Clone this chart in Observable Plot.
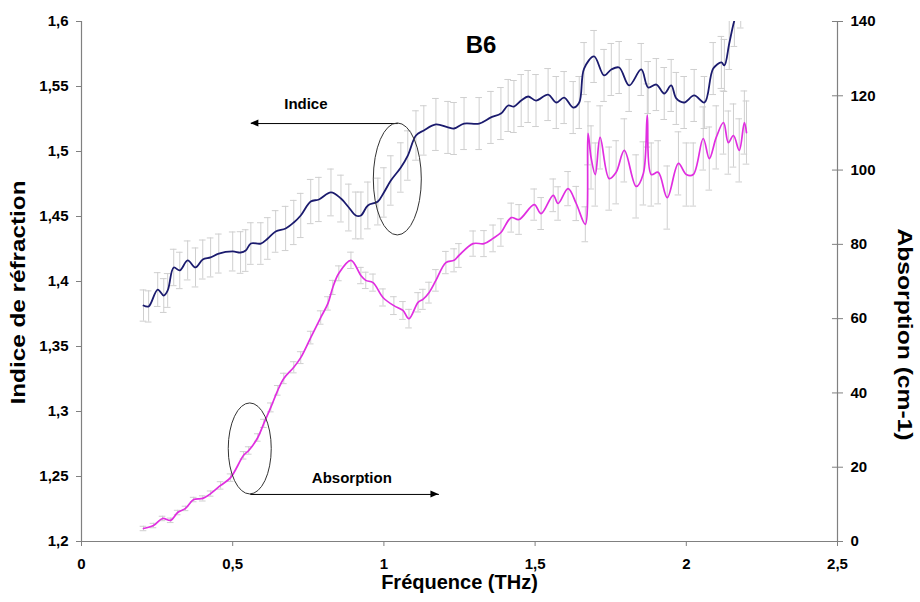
<!DOCTYPE html>
<html><head><meta charset="utf-8">
<script src="https://cdn.jsdelivr.net/npm/d3@7"></script>
<script src="https://cdn.jsdelivr.net/npm/@observablehq/plot@0.6"></script>
<style>
body{margin:0;background:#fff;}
#chart svg{display:block;}
</style></head><body><div id="chart"></div>
<script>
// ---- Indice de réfraction (left axis) ----
const freqIndice = [0.205,0.222,0.252,0.272,0.285,0.305,0.325,0.351,0.377,0.401,0.427,0.454,0.500,0.526,0.543,0.560,0.593,0.616,0.642,0.675,0.702,0.725,0.758,0.785,0.825,0.858,0.884,0.907,0.924,0.947,0.980,1.000,1.023,1.056,1.079,1.106,1.132,1.172,1.212,1.232,1.265,1.315,1.354,1.387,1.411,1.430,1.454,1.477,1.503,1.543,1.570,1.596,1.626,1.646,1.662,1.695,1.728,1.752,1.778,1.811,1.851,1.874,1.901,1.927,1.950,1.967,1.993,2.026,2.060,2.089,2.116,2.126,2.142,2.159,2.180,2.200];
const indice = [1.3815,1.3808,1.3938,1.3892,1.3931,1.4108,1.4085,1.4162,1.4108,1.4169,1.4185,1.4215,1.4231,1.4223,1.4238,1.4292,1.4292,1.4331,1.4385,1.4408,1.4454,1.4508,1.4615,1.4631,1.4685,1.4638,1.4569,1.4508,1.4508,1.4585,1.4615,1.4685,1.4777,1.4877,1.4969,1.5123,1.5162,1.5208,1.5185,1.5177,1.5215,1.5215,1.5262,1.5292,1.5354,1.5346,1.5392,1.5423,1.5392,1.5438,1.5377,1.5415,1.5338,1.5377,1.5638,1.5731,1.5585,1.5631,1.5646,1.5508,1.5631,1.5492,1.5515,1.5446,1.5508,1.5408,1.5377,1.5431,1.5377,1.5638,1.5685,1.5662,1.5831,1.6008,1.6150,1.6250];
const errIndice = [0.012,0.012,0.013,0.013,0.013,0.014,0.014,0.015,0.015,0.015,0.015,0.015,0.015,0.016,0.016,0.016,0.016,0.016,0.016,0.017,0.017,0.017,0.017,0.017,0.018,0.018,0.018,0.018,0.018,0.018,0.018,0.019,0.019,0.019,0.019,0.019,0.019,0.020,0.020,0.020,0.020,0.020,0.020,0.020,0.020,0.020,0.020,0.020,0.020,0.020,0.020,0.020,0.020,0.020,0.020,0.020,0.020,0.020,0.020,0.020,0.020,0.020,0.020,0.020,0.020,0.020,0.020,0.020,0.020,0.020,0.020,0.020,0.020,0.020,0.020,0.020];

// ---- Absorption (cm-1, right axis) ----
const freqAbs = [0.205,0.238,0.268,0.295,0.318,0.344,0.371,0.401,0.427,0.460,0.493,0.536,0.553,0.583,0.603,0.626,0.649,0.669,0.702,0.725,0.758,0.791,0.815,0.831,0.851,0.891,0.924,0.940,0.964,0.997,1.033,1.063,1.083,1.113,1.129,1.149,1.172,1.205,1.232,1.248,1.295,1.331,1.361,1.387,1.421,1.447,1.497,1.520,1.560,1.576,1.609,1.636,1.666,1.675,1.685,1.699,1.715,1.745,1.768,1.795,1.834,1.858,1.871,1.884,1.907,1.937,1.974,2.000,2.023,2.056,2.076,2.099,2.123,2.139,2.156,2.175,2.192,2.199];
const absorption = [3.5,4.3,6.2,5.7,7.8,8.9,11.3,11.6,12.9,15.1,17.2,23.2,24.5,28.0,31.8,36.1,40.7,43.9,46.9,49.5,54.9,60.3,64.1,68.4,72.2,75.7,71.6,70.3,69.7,65.7,63.5,62.2,60.0,64.4,65.2,67.0,70.3,75.1,75.7,77.0,80.2,80.2,81.6,83.2,87.2,86.7,90.7,88.3,93.2,91.0,95.0,91.0,85.4,109.9,103.4,98.8,108.8,97.7,99.4,105.3,95.6,99.1,114.7,98.8,99.4,92.6,101.8,98.8,98.8,108.5,103.1,108.8,112.8,107.4,109.3,105.3,112.8,110.1];
const errAbs = [0.6,0.6,0.6,0.6,0.6,0.6,0.6,0.7,0.7,1.0,1.0,1.0,1.0,1.0,1.1,1.2,1.3,1.4,1.5,1.6,1.7,1.8,1.8,1.9,2.0,2.2,2.2,2.2,2.3,2.3,2.4,2.4,2.5,2.6,2.7,2.8,2.9,3.0,3.1,3.2,3.4,3.5,3.6,3.7,3.9,4.0,4.2,4.3,4.4,4.5,4.6,4.6,4.7,8.5,8.5,8.5,8.5,8.5,8.5,8.5,8.5,8.5,8.5,8.5,8.5,8.5,8.5,8.5,8.5,8.5,8.5,8.5,8.5,8.5,8.5,8.5,8.5,8.5];

// ---- axes ----
const xTicks = [0, 0.5, 1, 1.5, 2, 2.5];
const leftTicks = [1.2, 1.25, 1.3, 1.35, 1.4, 1.45, 1.5, 1.55, 1.6];
const rightTicks = [0, 20, 40, 60, 80, 100, 120, 140];

// ---- annotations ----
const annoText = ["B6", "Indice", "Absorption"];
const annoTextX = [1.321, 0.742, 0.894];
const annoTextY = [1.5815, 1.5362, 1.2490];
const arrowX1 = [1.046, 0.558];
const arrowX2 = [0.560, 1.182];
const arrowY = [1.5215, 1.2362];
const ellipseX = [1.046, 0.558];
const ellipseY = [1.4785, 1.2712];

const N0 = 1.2, N1 = 1.6, A1 = 140;
const toN = a => N0 + a * (N1 - N0) / A1;
const fmt = v => String(v).replace(".", ",");
const cap = 0.011;
const FONT = "Liberation Sans, Arial, Helvetica, sans-serif";

const blue = freqIndice.map((x, i) => ({x, y: indice[i], e: errIndice[i]}));
const pink = freqAbs.map((x, i) => ({x, y: toN(absorption[i]), e: toN(errAbs[i]) - N0}));
const errColor = "#cfcfcf";

function errMarks(data) {
  return [
    Plot.ruleX(data, {x: "x", y1: d => d.y - d.e, y2: d => d.y + d.e, stroke: errColor, strokeWidth: 1, clip: true}),
    Plot.ruleY(data, {x1: d => d.x - cap, x2: d => d.x + cap, y: d => d.y + d.e, stroke: errColor, strokeWidth: 1, clip: true}),
    Plot.ruleY(data, {x1: d => d.x - cap, x2: d => d.x + cap, y: d => d.y - d.e, stroke: errColor, strokeWidth: 1, clip: true})
  ];
}

const annos = annoText.map((t, i) => ({t, x: annoTextX[i], y: annoTextY[i]}));
const arrows = arrowX1.map((x1, i) => ({x1, x2: arrowX2[i], y: arrowY[i]}));

const plot = Plot.plot({
  width: 920, height: 602,
  marginLeft: 81, marginRight: 83, marginTop: 21, marginBottom: 61,
  style: {fontFamily: FONT, background: "#fff", color: "#000", overflow: "visible"},
  x: {domain: [0, 2.5]},
  y: {domain: [N0, N1]},
  marks: [
    ...errMarks(blue),
    ...errMarks(pink),
    Plot.line(blue, {x: "x", y: "y", stroke: "#1b1b6e", strokeWidth: 1.8, curve: "catmull-rom", clip: true}),
    Plot.line(pink, {x: "x", y: "y", stroke: "#e02ee0", strokeWidth: 1.7, curve: "catmull-rom", clip: true}),
    Plot.ruleY([N0], {stroke: "#808080", strokeWidth: 1.2}),
    Plot.ruleX([0, 2.5], {stroke: "#808080", strokeWidth: 1.2}),
    Plot.axisX(xTicks, {tickFormat: fmt, tickSize: 5, tickPadding: 12, stroke: "#808080", fill: "#000", fontSize: 15, fontWeight: "bold", label: null}),
    Plot.axisY(leftTicks, {anchor: "left", tickFormat: fmt, tickSize: 5, tickPadding: 8, stroke: "#808080", fill: "#000", fontSize: 15, fontWeight: "bold", label: null}),
    Plot.axisY(rightTicks.map(toN), {anchor: "right", tickFormat: d => String(Math.round((d - N0) * A1 / (N1 - N0))), tickSize: 5, tickPadding: 8, stroke: "#808080", fill: "#000", fontSize: 15, fontWeight: "bold", label: null}),
    Plot.ruleY(rightTicks.map(toN), {x1: 2.5 - 0.0166, x2: 2.5, stroke: "#808080"}),
    Plot.text(["Fréquence (THz)"], {frameAnchor: "bottom", dy: 47, fontSize: 20, fontWeight: "bold", fill: "#000"}),
    Plot.text(["Indice de réfraction"], {frameAnchor: "left", textAnchor: "middle", dx: -63, dy: 11, rotate: -90, fontSize: 21, fontWeight: "bold", fill: "#000"}),
    Plot.text(["Absorption (cm-1)"], {frameAnchor: "right", textAnchor: "middle", dx: 67, dy: 53, rotate: 90, fontSize: 21, fontWeight: "bold", fill: "#000"}),
    Plot.text(annos, {x: "x", y: "y", text: "t", fontWeight: "bold", fill: "#000", fontSize: d => d.t === "B6" ? 24 : 15}),
    Plot.link(arrows, {x1: "x1", x2: "x2", y1: "y", y2: "y", stroke: "#000", strokeWidth: 1})
  ]
});

// ellipses and filled arrowheads drawn with the plot's own scales
const sx = plot.scale("x"), sy = plot.scale("y");
const svg = d3.select(plot);
const g = svg.append("g");
const ellR = [[24, 56], [21.5, 45.5]];
ellipseX.forEach((x, i) => {
  g.append("ellipse")
    .attr("cx", sx.apply(x)).attr("cy", sy.apply(ellipseY[i]))
    .attr("rx", ellR[i][0]).attr("ry", ellR[i][1])
    .attr("fill", "none").attr("stroke", "#333").attr("stroke-width", 1);
});
arrows.forEach(a => {
  const tx = sx.apply(a.x2), ty = sy.apply(a.y);
  const dir = a.x2 > a.x1 ? 1 : -1;
  g.append("path")
    .attr("d", `M${tx},${ty}L${tx - dir * 8},${ty - 3.5}L${tx - dir * 8},${ty + 3.5}Z`)
    .attr("fill", "#000");
});
// the vertical axis titles are stretched along their length in the reference
const stretch = {"Indice de réfraction": 224, "Absorption (cm-1)": 212};
svg.selectAll("text").each(function () {
  const L = stretch[this.textContent];
  if (L) d3.select(this).attr("textLength", L).attr("lengthAdjust", "spacingAndGlyphs");
});

document.getElementById("chart").appendChild(plot);
</script>
</body></html>
